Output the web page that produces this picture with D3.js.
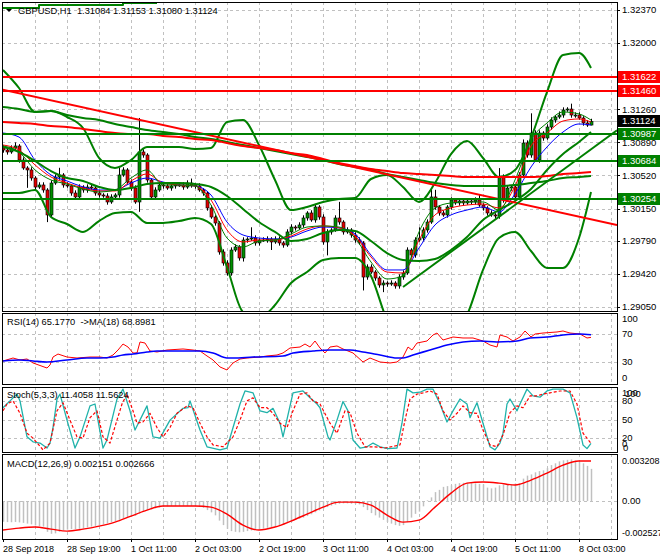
<!DOCTYPE html>
<html>
<head>
<meta charset="utf-8">
<script src="https://cdn.jsdelivr.net/npm/d3@7/dist/d3.min.js"></script>
<style>
  body { margin: 0; background: #fff; }
  svg text { font-family: "Liberation Sans", Arial, sans-serif; font-size: 9.5px; fill: #000; white-space: pre; }
</style>
</head>
<body>
<svg width="660" height="560"></svg>
<script>
// ---- data ----
const symbolTitle = "GBPUSD,H1  1.31084 1.31153 1.31080 1.31124";
const rsiTitle = "RSI(14) 65.1770  ->MA(18) 68.8981";
const stochTitle = "Stoch(5,3,3) 11.4058 11.5624";
const macdTitle = "MACD(12,26,9) 0.002151 0.002666";

const firstOpen = 1.30827;
const closes = [
  1.30805,1.30783,1.30827,1.30850,1.30693,1.30604,1.30582,1.30492,1.30391,1.30414,
  1.30358,1.30079,1.30436,1.30503,1.30526,1.30414,1.30403,1.30324,1.30280,1.30391,
  1.30358,1.30391,1.30380,1.30324,1.30302,1.30291,1.30224,1.30280,1.30302,1.30526,
  1.30582,1.30447,1.30380,1.30224,1.30783,1.30749,1.30470,1.30280,1.30358,1.30414,
  1.30403,1.30380,1.30403,1.30414,1.30414,1.30391,1.30436,1.30414,1.30403,1.30358,
  1.30324,1.30157,1.30056,1.29989,1.29665,1.29542,1.29430,1.29687,1.29721,1.29598,
  1.29799,1.29810,1.29821,1.29766,1.29799,1.29799,1.29810,1.29777,1.29810,1.29766,
  1.29743,1.29889,1.29944,1.29934,1.29967,1.30045,1.30101,1.30023,1.30168,1.30056,
  1.29777,1.29889,1.29911,1.30045,1.30000,1.29889,1.29911,1.29855,1.29799,1.29766,
  1.29385,1.29497,1.29441,1.29374,1.29296,1.29318,1.29307,1.29318,1.29285,1.29385,
  1.29430,1.29687,1.29631,1.29799,1.29821,1.29911,1.30000,1.30280,1.30168,1.30101,
  1.30079,1.30168,1.30246,1.30213,1.30235,1.30213,1.30235,1.30224,1.30246,1.30190,
  1.30157,1.30101,1.30079,1.30067,1.30503,1.30246,1.30380,1.30391,1.30280,1.30526,
  1.30883,1.30749,1.30995,1.30693,1.30995,1.30939,1.31062,1.31140,1.31174,1.31196,
  1.31252,1.31263,1.31196,1.31196,1.31163,1.31107,1.31084,1.31124
];
// wick lengths in pips above the body top and below the body bottom
const wickUp = [
  3,2,3,4,2,3,2,3,2,3, 3,2,3,3,8,2,3,2,3,3, 2,3,3,2,3,2,3,3,2,8,
  3,2,3,3,38,3,2,2,3,3, 2,3,2,3,2,3,3,5,2,3, 2,2,3,2,2,3,3,3,3,2,
  3,2,12,3,2,3,3,2,3,3, 2,3,3,2,3,3,2,3,3,2, 3,3,2,3,18,2,3,2,3,3,
  2,3,3,2,2,3,2,3,2,3, 3,3,2,3,12,3,3,8,8,2, 3,2,3,2,3,2,3,2,3,6,
  2,2,3,2,10,3,3,2,3,3, 4,3,22,3,3,2,3,3,2,4, 3,2,6,3,3,2,3,3
];
const wickDown = [
  3,3,2,3,3,2,20,3,3,2, 3,8,3,2,3,3,2,3,3,2, 3,3,2,3,3,2,3,2,3,3,
  2,3,3,2,11,3,3,2,3,2, 3,2,3,3,2,3,2,3,3,2, 3,3,2,3,3,3,3,3,2,3,
  4,3,2,3,3,2,3,9,2,3, 3,2,3,3,2,3,3,2,3,3, 3,15,3,2,3,3,2,3,3,2,
  15,3,2,3,3,8,3,2,3,3, 3,2,3,3,2,3,3,2,3,3, 2,3,3,2,3,3,2,3,3,2,
  3,3,2,3,3,3,2,3,3,2, 3,3,3,2,3,3,2,3,3,2, 3,2,3,3,2,3,2,0.4
];

// overlay lines, sampled every 4 bars (bars 0,4,...,144 and the last bar 147)
const maFast = [1.30850,1.30783,1.30582,1.30470,1.30425,1.30369,1.30336,1.30358,1.30492,1.30582,1.30414,1.30414,1.30403,1.30190,1.29821,1.29721,1.29788,1.29799,1.29866,1.29944,1.29956,1.29944,1.29821,1.29553,1.29363,1.29397,1.29889,1.30157,1.30213,1.30224,1.30224,1.30134,1.30470,1.30917,1.31107,1.31230,1.31208,1.31140];
const maMid = [1.30861,1.30805,1.30638,1.30503,1.30436,1.30380,1.30347,1.30347,1.30459,1.30537,1.30436,1.30414,1.30403,1.30246,1.29911,1.29777,1.29799,1.29799,1.29844,1.29922,1.29956,1.29934,1.29844,1.29609,1.29441,1.29430,1.29799,1.30079,1.30157,1.30190,1.30201,1.30157,1.30403,1.30850,1.30995,1.31129,1.31152,1.31118];
const maSlow = [1.30995,1.30950,1.30693,1.30526,1.30459,1.30392,1.30358,1.30358,1.30436,1.30492,1.30447,1.30414,1.30403,1.30302,1.30000,1.29855,1.29821,1.29810,1.29832,1.29900,1.29944,1.29934,1.29866,1.29631,1.29464,1.29464,1.29710,1.29967,1.30079,1.30134,1.30168,1.30112,1.30313,1.30615,1.30839,1.31006,1.31096,1.31085];
const bandUpper = [1.31699,1.31498,1.31230,1.31241,1.31174,1.31051,1.30716,1.30604,1.30693,1.30839,1.30839,1.30839,1.30816,1.30827,1.31118,1.31140,1.30861,1.30470,1.30134,1.30168,1.30224,1.30258,1.30269,1.30481,1.30526,1.30392,1.30224,1.30436,1.30760,1.30906,1.30716,1.30503,1.30582,1.30939,1.31453,1.31867,1.31889,1.31722];
const bandMiddle = [1.30839,1.30783,1.30682,1.30570,1.30492,1.30459,1.30392,1.30358,1.30380,1.30425,1.30436,1.30436,1.30425,1.30392,1.30291,1.30146,1.30000,1.29889,1.29788,1.29810,1.29877,1.29911,1.29900,1.29788,1.29653,1.29576,1.29564,1.29587,1.29687,1.29832,1.30023,1.30134,1.30235,1.30369,1.30582,1.30760,1.30895,1.31006];
const bandLower = [1.30324,1.30324,1.30358,1.30056,1.29978,1.29889,1.30011,1.30101,1.30112,1.29989,1.29989,1.30011,1.30045,1.29978,1.29497,1.28994,1.28927,1.29072,1.29318,1.29441,1.29576,1.29598,1.29598,1.29397,1.28905,1.28625,1.28514,1.28570,1.28737,1.28961,1.29464,1.29821,1.29889,1.29676,1.29486,1.29486,1.29821,1.30336];
const longGreen = [1.31286,1.31263,1.31230,1.31241,1.31196,1.31163,1.31140,1.31096,1.31062,1.31029,1.31006,1.30984,1.30950,1.30928,1.30895,1.30861,1.30827,1.30794,1.30760,1.30727,1.30693,1.30649,1.30615,1.30582,1.30537,1.30503,1.30470,1.30436,1.30414,1.30403,1.30403,1.30403,1.30414,1.30436,1.30459,1.30492,1.30503,1.30514];
const longRed = [1.31118,1.31107,1.31096,1.31073,1.31062,1.31040,1.31017,1.30995,1.30984,1.30984,1.30962,1.30950,1.30928,1.30917,1.30883,1.30850,1.30827,1.30805,1.30771,1.30749,1.30704,1.30660,1.30626,1.30593,1.30570,1.30548,1.30537,1.30526,1.30514,1.30503,1.30503,1.30503,1.30503,1.30503,1.30514,1.30537,1.30548,1.30559];
const topEdgeIdx = [-1, 9, 9, 30, 30, 38.5];
const topEdge = [1.32392, 1.32392, 1.32426, 1.32426, 1.32448, 1.32448];

// drawn objects
const levelPrices = [1.31622, 1.31460, 1.30987, 1.30684, 1.30254];
const levelKinds = ["res", "res", "sup", "sup", "sup"];
const lastPrice = 1.31124;
const redTrendIdx = [0, 147], redTrendPrice = [1.31479, 1.30030];
const greenTrendIdx = [100, 147], greenTrendPrice = [1.29274, 1.30812];

// axes
const priceTicks = [1.32370, 1.32000, 1.31630, 1.31260, 1.30890, 1.30520, 1.30150, 1.29790, 1.29420, 1.29050];
const timeIdx = [0, 16, 32, 48, 64, 80, 96, 112, 128, 144];
const timeLabels = ["28 Sep 2018", "28 Sep 19:00", "1 Oct 11:00", "2 Oct 03:00", "2 Oct 19:00",
                    "3 Oct 11:00", "4 Oct 03:00", "4 Oct 19:00", "5 Oct 11:00", "8 Oct 03:00"];

// RSI(14) and its MA(18): [bar, value]
const rsiPoints = [[0,31.4],[2.5,35.7],[4.25,32.9],[6,34.3],[7.5,28.6],[11,21.4],[11.75,25.7],[12.5,37.1],[13.75,41.4],[16,37.1],[18.5,35.7],[21.75,37.1],[24.25,37.1],[26,35.7],[27.5,40],[28.75,47.1],[30,55.7],[31.25,51.4],[32.5,42.9],[33.5,42.9],[34.25,58.6],[35.5,57.1],[36.75,45.7],[38.5,44.3],[41,47.1],[45,48.6],[47.5,47.1],[49.25,45.7],[51,38.6],[52.5,32.9],[54.25,22.9],[56,18.6],[57.5,28.6],[59.25,34.3],[61,35.7],[64.25,37.1],[66,38.6],[68.5,40],[70,42.9],[71.75,50],[74.25,51.4],[75.5,55.7],[76.75,51.4],[78,60],[79.25,50],[80.5,42.9],[81.75,51.4],[83.5,52.9],[85,48.6],[87.5,42.9],[90,30],[91.75,35.7],[94.25,30],[96.75,28.6],[98.5,30],[100,37.1],[101.25,51.4],[102.25,47.1],[103.5,57.1],[106,60],[107.5,68.6],[108.5,71.4],[110,61.4],[112.5,65.7],[115,64.3],[117.5,64.3],[120,60],[121.75,54.3],[123.5,51.4],[124.25,68.6],[126,65.7],[127.5,60],[129.25,65.7],[130.5,74.3],[132,65.7],[133,70],[135,71.4],[138.5,72.9],[140,74.3],[141.75,71.4],[144.25,70],[146,64.3],[147,65.2]];
const rsiMaPoints = [[0,31.4],[4.25,32.9],[7.5,31.4],[11,30],[16,32.9],[21,35.7],[24.25,35.7],[27.5,37.1],[30,40],[32.5,41.4],[36,44.3],[38.5,45.7],[49.25,45.7],[52.5,42.9],[56,35.7],[57.5,35.7],[62.5,37.1],[70,38.6],[72.5,42.9],[77.5,45.7],[81.75,47.1],[86.75,47.1],[90,44.3],[94.25,40],[98.5,35.7],[100,35.7],[102.5,40],[106.75,47.1],[111,54.3],[115,58.6],[119.25,60],[123.5,58.6],[128.5,60],[131.75,64.3],[136,65.7],[140,68.6],[144.25,70],[147,68.9]];
const rsiLevels = [70, 30];
const rsiLabels = [100, 70, 30, 0];

// Stochastic(5,3,3): [bar, value]
const stochMain = [[0,69],[1.75,80],[3.5,91],[4.25,80],[6,22],[7.5,14],[9.25,12],[11,4],[11.75,12],[12.5,37],[13.5,83],[14.25,91],[16,49],[18,4],[19.25,22],[21.75,72],[23,75],[25,4],[26,17],[28.5,83],[30,99],[31.75,64],[33,33],[36,72],[37.5,22],[39.25,20],[41.75,49],[45,68],[46.25,69],[46.75,80],[49.25,33],[51,6],[54.25,1],[56,4],[59.25,75],[60.5,96],[62.5,93],[64.25,64],[66,61],[67.5,68],[69.25,44],[70,22],[72.5,93],[75,96],[76.75,85],[78.5,75],[79.25,69],[81.25,22],[81.75,17],[83.5,49],[85,79],[86.25,64],[87.5,17],[89.25,4],[91,6],[92.5,12],[94.25,6],[96.25,3],[98.5,4],[99.75,44],[101,99],[102.5,93],[104.25,94],[106,99],[107.5,99],[109.25,75],[111,46],[112.5,64],[114.25,83],[116,75],[116.75,53],[118.5,77],[120,44],[121.75,6],[123,1],[124.25,12],[125,28],[126,75],[126.75,83],[128.5,64],[129.25,75],[131,99],[132.5,88],[134.25,86],[136,96],[137.5,99],[140,99],[141.75,93],[143.5,53],[145,9],[146,3],[147,11.4]];
const stochSignal = [[0,64],[1,75],[2.5,80],[4.25,60],[6,28],[7.5,20],[10,1],[11.75,12],[13.5,64],[15,77],[16.75,49],[18.5,22],[20,20],[21.75,53],[23.5,64],[25,22],[26.75,12],[28.5,49],[29.75,75],[31,91],[32.5,64],[33.5,44],[35,46],[36.75,60],[38.5,37],[40,22],[41.75,37],[43.5,60],[46,72],[47.5,69],[49.25,44],[51,22],[52.5,9],[55,6],[57.5,22],[59.25,49],[61,80],[62.5,85],[64.25,69],[66,69],[67.5,60],[69.25,44],[71,37],[72.5,64],[74.25,91],[76,93],[77.5,80],[79.25,75],[81.75,44],[83.5,28],[85.5,64],[86.75,61],[88.5,28],[90.5,6],[93,6],[95.5,4],[99.25,9],[100.5,49],[101.75,83],[103.5,91],[105,93],[106.75,96],[108.5,91],[110,64],[111.75,49],[113.5,60],[115,72],[116.75,61],[118.5,60],[120,33],[121.75,9],[123.5,6],[125,25],[126.75,61],[128.5,72],[130,69],[131.75,88],[133.5,88],[135,91],[136.75,93],[139.25,96],[141.75,96],[143.5,75],[145,28],[147,11.6]];
const stochLevels = [80, 50, 20];

// MACD(12,26,9): histogram per bar, signal sampled every 4 bars
const macdHist = [
  -0.00138,-0.00140,-0.00141,-0.00139,-0.00142,-0.00145,-0.00150,-0.00155,-0.00162,-0.00166,
  -0.00170,-0.00205,-0.00218,-0.00215,-0.00205,-0.00195,-0.00190,-0.00187,-0.00186,-0.00185,
  -0.00182,-0.00175,-0.00170,-0.00165,-0.00160,-0.00155,-0.00148,-0.00140,-0.00133,-0.00125,
  -0.00115,-0.00108,-0.00100,-0.00098,-0.00085,-0.00070,-0.00060,-0.00055,-0.00048,-0.00042,
  -0.00038,-0.00035,-0.00033,-0.00032,-0.00032,-0.00031,-0.00032,-0.00033,-0.00035,-0.00038,
  -0.00045,-0.00060,-0.00075,-0.00095,-0.00130,-0.00160,-0.00185,-0.00200,-0.00205,-0.00208,
  -0.00205,-0.00200,-0.00196,-0.00192,-0.00188,-0.00183,-0.00178,-0.00172,-0.00168,-0.00162,
  -0.00155,-0.00145,-0.00135,-0.00125,-0.00118,-0.00110,-0.00100,-0.00088,-0.00075,-0.00062,
  -0.00050,-0.00040,-0.00030,-0.00024,-0.00018,-0.00015,-0.00015,-0.00018,-0.00020,-0.00022,
  -0.00040,-0.00060,-0.00080,-0.00095,-0.00110,-0.00125,-0.00140,-0.00150,-0.00160,-0.00165,
  -0.00160,-0.00140,-0.00110,-0.00085,-0.00070,-0.00035,0.00005,0.00025,0.00060,0.00075,
  0.00095,0.00100,0.00105,0.00115,0.00120,0.00122,0.00122,0.00120,0.00118,0.00115,
  0.00112,0.00090,0.00085,0.00090,0.00105,0.00110,0.00112,0.00112,0.00118,0.00118,
  0.00150,0.00170,0.00178,0.00192,0.00200,0.00205,0.00220,0.00240,0.00252,0.00265,
  0.00272,0.00275,0.00278,0.00270,0.00262,0.00252,0.00235,0.00215
];
const macdSignal = [-0.00193,-0.00180,-0.00173,-0.00187,-0.00200,-0.00187,-0.00167,-0.00140,-0.00100,-0.00060,-0.00033,-0.00033,-0.00033,-0.00040,-0.00087,-0.00160,-0.00193,-0.00173,-0.00133,-0.00087,-0.00040,-0.00007,-0.00007,-0.00027,-0.00093,-0.00140,-0.00127,-0.00040,0.00053,0.00120,0.00127,0.00120,0.00107,0.00140,0.00187,0.00240,0.00267,0.00267];
const macdMax = 0.003208, macdMin = -0.002527;

// ---- layout ----
const svg = d3.select("svg");
const plotLeft = 2, plotRight = 617;
const pip = 0.0001;
const mainP = {top: 2, bottom: 311};
const rsiP = {top: 313, bottom: 384};
const stochP = {top: 387, bottom: 452};
const macdP = {top: 454, bottom: 539};
const gridColor = "#c0c0c0";
const green = "#008000", red = "#ff0000";

const sampleIdx = d3.range(0, 148, 4).concat([147]);

const x = d3.scaleLinear().domain([0, 147]).range([3, 591]);
const yMain = d3.scaleLinear().domain([1.29050, 1.32370]).range([307, 10]);
const yRsi = d3.scaleLinear().domain([0, 100]).range([383, 313]);
const yStoch = d3.scaleLinear().domain([0, 100]).range([450.5, 388.5]);
const yMacd = d3.scaleLinear().domain([macdMin, macdMax]).range([539, 453]);

const defs = svg.append("defs");
function panel(name, p) {
  defs.append("clipPath").attr("id", "clip-" + name)
    .append("rect").attr("x", plotLeft + 1).attr("y", p.top + 1)
    .attr("width", plotRight - plotLeft - 1).attr("height", p.bottom - p.top - 1);
  const g = svg.append("g");
  const grid = g.append("g");
  // vertical grid
  grid.selectAll("line").data(d3.range(8, 156, 8)).enter().append("line")
    .attr("x1", d => Math.round(x(d)) + 0.5).attr("x2", d => Math.round(x(d)) + 0.5)
    .attr("y1", p.top).attr("y2", p.bottom)
    .attr("stroke", gridColor).attr("stroke-dasharray", "3,3");
  const inner = g.append("g").attr("clip-path", "url(#clip-" + name + ")");
  return {grid, inner};
}
function hGrid(g, vals, scale) {
  g.selectAll(null).data(vals).enter().append("line")
    .attr("x1", plotLeft).attr("x2", plotRight)
    .attr("y1", d => Math.round(scale(d)) + 0.5).attr("y2", d => Math.round(scale(d)) + 0.5)
    .attr("stroke", gridColor).attr("stroke-dasharray", "3,3");
}
function frame(p) {
  svg.append("rect").attr("x", plotLeft + 0.5).attr("y", p.top + 0.5)
    .attr("width", plotRight - plotLeft).attr("height", p.bottom - p.top)
    .attr("fill", "none").attr("stroke", "#000");
}
function drawLine(g, pts, scale, color, width, curve, dash) {
  const line = d3.line().x(d => x(d[0])).y(d => scale(d[1])).curve(curve || d3.curveLinear);
  const path = g.append("path").datum(pts).attr("d", line)
    .attr("fill", "none").attr("stroke", color).attr("stroke-width", width)
    .attr("stroke-linejoin", "round");
  if (dash) path.attr("stroke-dasharray", dash);
  return path;
}
function axisLabel(text, y, xx, size) {
  const t = svg.append("text").attr("x", xx || 622).attr("y", y).attr("dy", "0.35em").text(text);
  if (size) t.style("font-size", size);
}
const clampIn = (p, y) => Math.max(p.top + 6, Math.min(p.bottom - 6, y));

// ---- main panel ----
const main = panel("main", mainP);
hGrid(main.grid, priceTicks, yMain);
main.grid.append("line").attr("x1", plotLeft).attr("x2", plotRight)
  .attr("y1", Math.round(yMain(lastPrice)) + 0.5).attr("y2", Math.round(yMain(lastPrice)) + 0.5)
  .attr("stroke", gridColor);

const candles = closes.map((c, i) => {
  const o = i === 0 ? firstOpen : closes[i - 1];
  return {i, o, c, h: Math.max(o, c) + wickUp[i] * pip, l: Math.min(o, c) - wickDown[i] * pip};
});
const cg = main.inner.append("g");
cg.selectAll("line").data(candles).enter().append("line")
  .attr("x1", d => Math.round(x(d.i)) + 0.5).attr("x2", d => Math.round(x(d.i)) + 0.5)
  .attr("y1", d => yMain(d.h)).attr("y2", d => yMain(d.l)).attr("stroke", "#000");
cg.selectAll("rect").data(candles).enter().append("rect")
  .attr("x", d => Math.round(x(d.i)) - 1)
  .attr("y", d => yMain(Math.max(d.o, d.c)))
  .attr("width", 3)
  .attr("height", d => Math.max(1, Math.abs(yMain(d.o) - yMain(d.c))))
  .attr("fill", d => d.c >= d.o ? "#009000" : "#e00000")
  .attr("stroke", "#000").attr("stroke-width", 0.6);

const sampled = vals => sampleIdx.map((idx, k) => [idx, vals[k]]);
drawLine(main.inner, sampled(maSlow), yMain, "#0000ff", 1, d3.curveMonotoneX);
drawLine(main.inner, sampled(maMid), yMain, red, 1, d3.curveMonotoneX);
drawLine(main.inner, sampled(maFast), yMain, green, 1, d3.curveMonotoneX);
drawLine(main.inner, sampled(bandUpper), yMain, green, 2, d3.curveMonotoneX);
drawLine(main.inner, sampled(bandMiddle), yMain, green, 2, d3.curveMonotoneX);
drawLine(main.inner, sampled(bandLower), yMain, green, 2, d3.curveMonotoneX);
drawLine(main.inner, sampled(longGreen), yMain, green, 2, d3.curveMonotoneX);
drawLine(main.inner, sampled(longRed), yMain, red, 2, d3.curveMonotoneX);
drawLine(main.inner, d3.zip(topEdgeIdx, topEdge), yMain, green, 2);

// trend lines, extended through their two anchors
function trend(idx, prices, color, fromLeft) {
  const x0 = x(idx[0]), y0 = yMain(prices[0]);
  const slope = (yMain(prices[1]) - y0) / (x(idx[1]) - x0);
  const xs = fromLeft ? plotLeft : x0;
  main.inner.append("line")
    .attr("x1", xs).attr("y1", y0 + slope * (xs - x0))
    .attr("x2", plotRight).attr("y2", y0 + slope * (plotRight - x0))
    .attr("stroke", color).attr("stroke-width", 2);
}
trend(redTrendIdx, redTrendPrice, red, true);
trend(greenTrendIdx, greenTrendPrice, green, false);

main.inner.selectAll("line.level").data(levelPrices).enter().append("line")
  .attr("x1", plotLeft).attr("x2", plotRight)
  .attr("y1", d => Math.round(yMain(d))).attr("y2", d => Math.round(yMain(d)))
  .attr("stroke", (d, i) => levelKinds[i] === "res" ? red : green).attr("stroke-width", 2);

// header
svg.append("path").attr("d", "M6,9 L12,9 L9,12 Z").attr("fill", "#000");
svg.append("text").attr("x", 18).attr("y", 14).style("font-size", "9.3px").text(symbolTitle);

// price axis
priceTicks.forEach(v => {
  svg.append("line").attr("x1", plotRight).attr("x2", plotRight + 3)
    .attr("y1", Math.round(yMain(v)) + 0.5).attr("y2", Math.round(yMain(v)) + 0.5).attr("stroke", "#000");
  axisLabel(v.toFixed(5), yMain(v));
});
function marker(price, bg) {
  const yy = Math.round(yMain(price));
  svg.append("rect").attr("x", 618).attr("y", yy - 6).attr("width", 42).attr("height", 12).attr("fill", bg);
  svg.append("text").attr("x", 622).attr("y", yy).attr("dy", "0.35em").style("fill", "#fff").text(price.toFixed(5));
}
levelPrices.forEach((p, i) => marker(p, levelKinds[i] === "res" ? red : green));
marker(lastPrice, "#000");

// ---- RSI panel ----
const rsi = panel("rsi", rsiP);
hGrid(rsi.grid, rsiLevels, yRsi);
drawLine(rsi.inner, rsiPoints, yRsi, red, 1);
drawLine(rsi.inner, rsiMaPoints, yRsi, "#0000ff", 1.6, d3.curveMonotoneX);
svg.append("text").attr("x", 7).attr("y", 325).style("font-size", "9.3px").text(rsiTitle);
rsiLabels.forEach(v => axisLabel(String(v), clampIn(rsiP, yRsi(v))));

// ---- Stochastic panel ----
const st = panel("stoch", stochP);
hGrid(st.grid, stochLevels, yStoch);
drawLine(st.inner, stochMain, yStoch, "#20b2aa", 1.3);
drawLine(st.inner, stochSignal, yStoch, red, 1.2, d3.curveLinear, "3,2");
svg.append("text").attr("x", 7).attr("y", 398).style("font-size", "9.3px").text(stochTitle);
axisLabel("100", clampIn(stochP, yStoch(100)));
axisLabel("100", clampIn(stochP, yStoch(100)) + 1, 625);
stochLevels.forEach(v => axisLabel(String(v), yStoch(v)));
axisLabel("0", clampIn(stochP, yStoch(0)) - 2);
axisLabel("0", clampIn(stochP, yStoch(0)) + 2, 623);

// ---- MACD panel ----
const mc = panel("macd", macdP);
hGrid(mc.grid, [0], yMacd);
mc.inner.selectAll("line.bar").data(macdHist).enter().append("line")
  .attr("x1", (d, i) => Math.round(x(i)) + 0.5).attr("x2", (d, i) => Math.round(x(i)) + 0.5)
  .attr("y1", yMacd(0)).attr("y2", d => yMacd(d))
  .attr("stroke", "#c0c0c0").attr("stroke-width", 1.5);
drawLine(mc.inner, sampled(macdSignal), yMacd, red, 1.4, d3.curveMonotoneX);
svg.append("text").attr("x", 7).attr("y", 467).style("font-size", "9.3px").text(macdTitle);
axisLabel(macdMax.toFixed(6), clampIn(macdP, yMacd(macdMax)) + 1, 622, "9px");
axisLabel("0.00", yMacd(0));
axisLabel(macdMin.toFixed(6), clampIn(macdP, yMacd(macdMin)), 622, "9px");

// frames drawn last so they sit on top
[mainP, rsiP, stochP, macdP].forEach(frame);

// ---- time axis ----
timeIdx.forEach((idx, k) => {
  const xx = Math.round(x(idx)) + 0.5;
  svg.append("line").attr("x1", xx).attr("x2", xx).attr("y1", macdP.bottom).attr("y2", macdP.bottom + 3).attr("stroke", "#000");
  svg.append("text").attr("x", x(idx)).attr("y", 552).style("font-size", "9px").text(timeLabels[k]);
});
</script>
</body>
</html>
